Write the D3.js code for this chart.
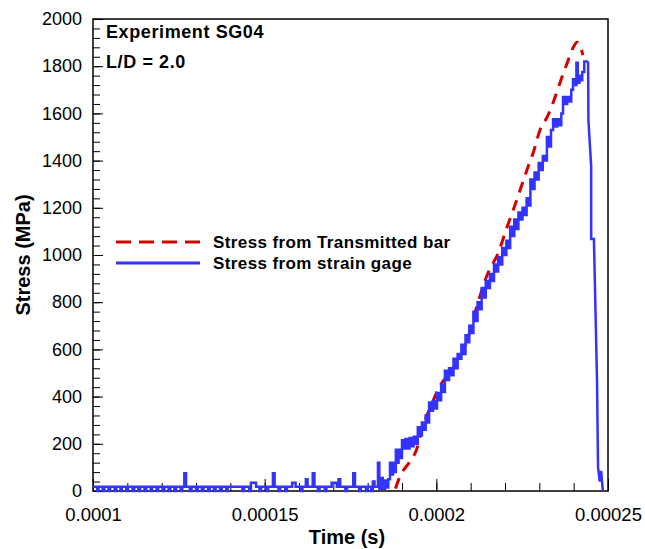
<!DOCTYPE html>
<html>
<head>
<meta charset="utf-8">
<script src="https://cdn.jsdelivr.net/npm/d3@7"></script>
<style>
  body { margin: 0; background: #fff; }
  svg text { font-family: "Liberation Sans", Arial, Helvetica, sans-serif; fill: #000; }
</style>
</head>
<body>
<div id="container"></div>
<script>
/* CONSTANTS AND GLOBALS */
const width = 645;
const height = 549;
const margin = { top: 19, right: 37, bottom: 58, left: 93 };

/* DATA (time in microseconds, stress in MPa) */
const xTicks = [0.0001, 0.00015, 0.0002, 0.00025];
const yTicks = [0, 200, 400, 600, 800, 1000, 1200, 1400, 1600, 1800, 2000];

// strain gage, quiet part before loading
const gageBaseline = [
  [100, 18], [101.2, 0], [101.6, 18], [102.8, 0], [103.3, 18], [104.5, 0], [105, 18],
  [106.3, 0], [106.8, 18], [108, 0], [108.4, 18], [109.7, 0], [110.2, 18], [111.5, 0],
  [112, 18], [113.2, 0], [113.7, 18], [115, 0], [115.5, 18], [116.8, 0], [117.2, 18],
  [118.5, 0], [119, 18], [120.3, 0], [120.8, 18], [122, 0], [122.5, 18], [123.7, 0],
  [124.2, 18], [125.5, 0], [126, 18], [126.6, 75], [127.1, 18], [128.2, 0], [128.7, 18],
  [130, 0], [130.5, 18], [131.7, 0], [132.2, 18], [133.5, 0], [134, 18], [135.2, 0],
  [135.7, 18], [137, 0], [137.5, 18], [138.8, 0], [139.2, 18], [143.5, 0], [144, 18],
  [145.5, 0], [146, 35], [147.5, 18], [148.5, 0], [149, 18], [150.5, 0], [151, 18],
  [152.4, 75], [152.9, 18], [154, 0], [154.5, 18], [156, 0], [156.5, 18], [158, 35],
  [159, 18], [160.5, 0], [161, 18], [162, 50], [162.5, 18], [164, 75], [164.5, 18],
  [165.5, 0], [166, 18], [167.5, 0], [168, 18], [169.5, 35], [171, 18], [171.5, 50],
  [172, 18], [173.5, 0], [174, 18], [175.8, 75], [176.3, 18], [177.5, 0], [178, 18],
  [179.5, 0], [180, 18], [181, 0], [181.5, 40], [182, 18]
];

// strain gage, loading ramp
const gageRamp = [
  [183, 120], [183.4, 10], [184, 55], [184.4, 10], [185, 45], [185.5, 15], [186, 50],
  [186.5, 120], [187, 70], [187.4, 120], [187.8, 80], [188.2, 175], [188.6, 120],
  [189, 175], [189.5, 140], [190, 215], [190.5, 180], [191, 220], [191.6, 180],
  [192.2, 225], [192.8, 190], [193.4, 230], [194, 200], [194.6, 270], [195.2, 235],
  [195.8, 290], [196.4, 260], [196.9, 320], [197.4, 290], [197.9, 375], [198.5, 340],
  [199, 380], [199.6, 350], [200.2, 415], [200.8, 385], [201.4, 450], [202, 420],
  [202.5, 510], [203.1, 470], [203.7, 520], [204.3, 490], [205, 560], [205.6, 520],
  [206.2, 580], [206.8, 560], [207.3, 620], [207.9, 580], [208.5, 660], [209.1, 630],
  [209.6, 700], [210.2, 670], [210.8, 760], [211.4, 720], [212, 800], [212.6, 770],
  [213.2, 860], [213.8, 820], [214.4, 890], [215, 860], [215.6, 920], [216.2, 890],
  [216.8, 960], [217.4, 930], [218, 990], [218.6, 960], [219.2, 1030], [219.8, 1000],
  [220.4, 1060], [221, 1030], [221.5, 1120], [222.1, 1080], [222.7, 1150], [223.3, 1110],
  [223.9, 1180], [224.5, 1150], [225.1, 1200], [225.7, 1170], [226.3, 1240], [226.9, 1210],
  [227.4, 1320], [228, 1280], [228.6, 1350], [229.2, 1320], [229.8, 1390], [230.4, 1360],
  [231, 1420], [231.6, 1400], [232.2, 1500], [232.8, 1460], [233.4, 1530], [234, 1575],
  [234.6, 1545], [235.2, 1575], [235.8, 1550], [236.4, 1600], [236.9, 1670], [237.5, 1640],
  [238.1, 1670], [238.7, 1650], [239.3, 1700], [239.8, 1745], [240.3, 1720], [240.8, 1815],
  [241.2, 1730], [241.7, 1760], [242.1, 1740], [242.5, 1775], [243.1, 1820], [244.2, 1820]
];

// strain gage, unloading after failure
const gageDrop = [
  [244.2, 1820], [244.3, 1570], [245.1, 1375], [245.1, 1068], [245.9, 1068],
  [246.8, 470], [247.1, 100], [247.6, 40], [248, 85], [248.5, 0]
];

// stress from transmitted bar
const transmitted = [
  [188.1, 10], [189, 47], [190.1, 80], [192.2, 123], [194.2, 174], [196.2, 280],
  [198.3, 356], [201.2, 449], [204.1, 504], [207, 576], [209, 640], [211.3, 758],
  [214.8, 915], [218, 1008], [220.6, 1119], [222.4, 1191], [224.4, 1275], [226.7, 1373],
  [228.2, 1432], [230.2, 1530], [232.3, 1585], [234.6, 1669], [236.6, 1754], [238.1, 1813],
  [239.8, 1877], [241, 1902], [241.9, 1885], [242.7, 1847]
];

const legendLabels = ["Stress from Transmitted bar", "Stress from strain gage"];
const notes = ["Experiment SG04", "L/D = 2.0"];

const redColor = "#d40000";
const blueColor = "#3333ff";

/* SCALES */
const svg = d3.select("#container")
  .append("svg")
  .attr("width", width)
  .attr("height", height);

const xScale = d3.scaleLinear()
  .domain([0.0001, 0.00025])
  .range([margin.left, width - margin.right]);

const yScale = d3.scaleLinear()
  .domain([0, 2000])
  .range([height - margin.bottom, margin.top]);

const us = d => d * 1e-6;

/* AXES */
const xMinor = d3.range(10, 26).map(d => d * 0.00001);
const yMinor = d3.range(0, 51).map(d => d * 40);

svg.append("g")
  .attr("transform", `translate(0, ${height - margin.bottom})`)
  .call(d3.axisBottom(xScale).tickValues(xMinor).tickSize(-8).tickFormat(""))
  .call(g => g.select(".domain").remove());

svg.append("g")
  .attr("transform", `translate(${margin.left}, 0)`)
  .call(d3.axisLeft(yScale).tickValues(yMinor).tickSize(-7).tickFormat(""))
  .call(g => g.select(".domain").remove());

const xAxis = svg.append("g")
  .attr("transform", `translate(0, ${height - margin.bottom})`)
  .call(d3.axisBottom(xScale).tickValues(xTicks).tickSize(-12).tickPadding(17)
    .tickFormat(d => String(+d.toPrecision(3))));
xAxis.select(".domain").remove();
xAxis.selectAll("text").attr("font-size", 18.5).attr("dy", "0.71em");

const yAxis = svg.append("g")
  .attr("transform", `translate(${margin.left}, 0)`)
  .call(d3.axisLeft(yScale).tickValues(yTicks).tickSize(-10).tickPadding(11)
    .tickFormat(d3.format("d")));
yAxis.select(".domain").remove();
yAxis.selectAll("text").attr("font-size", 18);

svg.selectAll(".tick line").attr("stroke", "#000");

// frame
svg.append("rect")
  .attr("x", margin.left)
  .attr("y", margin.top)
  .attr("width", width - margin.left - margin.right)
  .attr("height", height - margin.top - margin.bottom)
  .attr("fill", "none")
  .attr("stroke", "#000")
  .attr("stroke-width", 1.5);

/* LINES */
const line = curve => d3.line()
  .x(d => xScale(us(d[0])))
  .y(d => yScale(d[1]))
  .curve(curve);

svg.append("path")
  .datum(transmitted)
  .attr("d", line(d3.curveMonotoneX))
  .attr("fill", "none")
  .attr("stroke", redColor)
  .attr("stroke-width", 3)
  .attr("stroke-dasharray", "11,8");

svg.append("path")
  .datum(gageBaseline.concat(gageRamp))
  .attr("d", line(d3.curveStepAfter))
  .attr("fill", "none")
  .attr("stroke", blueColor)
  .attr("stroke-width", 2.5);

svg.append("path")
  .datum(gageDrop)
  .attr("d", line(d3.curveLinear))
  .attr("fill", "none")
  .attr("stroke", blueColor)
  .attr("stroke-width", 2.5);

/* TEXT */
svg.selectAll(".note")
  .data(notes)
  .join("text")
  .attr("class", "note")
  .attr("x", 106)
  .attr("y", (d, i) => 38 + i * 30)
  .attr("font-size", 18)
  .attr("letter-spacing", 0.6)
  .attr("font-weight", "bold")
  .text(d => d);

const legend = svg.selectAll(".legend")
  .data(legendLabels)
  .join("g")
  .attr("class", "legend")
  .attr("transform", (d, i) => `translate(116, ${242 + i * 21})`);

legend.append("line")
  .attr("x1", 0)
  .attr("x2", 84)
  .attr("stroke", (d, i) => i === 0 ? redColor : blueColor)
  .attr("stroke-width", 3)
  .attr("stroke-dasharray", (d, i) => i === 0 ? "15,8" : null);

legend.append("text")
  .attr("x", 97)
  .attr("dy", "0.35em")
  .attr("font-size", 17)
  .attr("letter-spacing", 0.4)
  .attr("font-weight", "bold")
  .text(d => d);

svg.append("text")
  .attr("x", 347)
  .attr("y", 544)
  .attr("text-anchor", "middle")
  .attr("font-size", 20)
  .attr("font-weight", "bold")
  .text("Time (s)");

svg.append("text")
  .attr("transform", `translate(30, ${(margin.top + height - margin.bottom) / 2}) rotate(-90)`)
  .attr("text-anchor", "middle")
  .attr("font-size", 20)
  .attr("font-weight", "bold")
  .text("Stress (MPa)");
</script>
</body>
</html>
